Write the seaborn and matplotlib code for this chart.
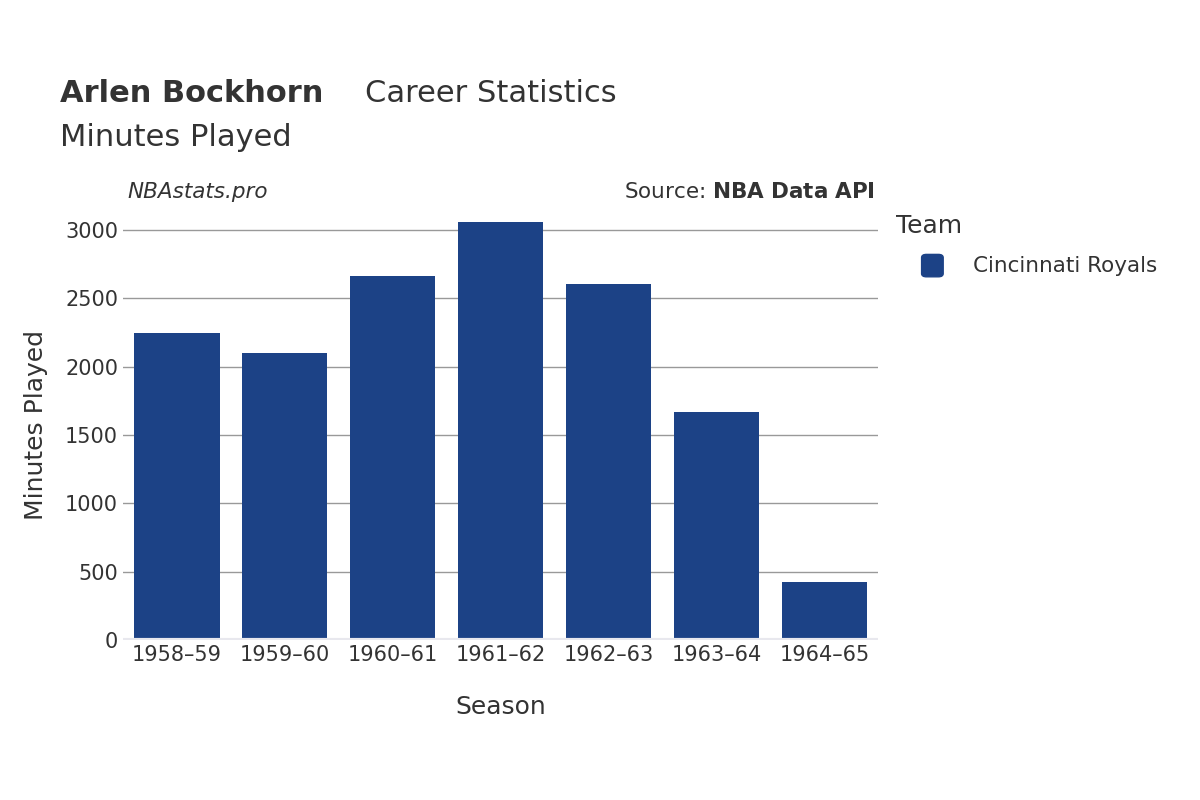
import seaborn as sns
import pandas as pd
import matplotlib.pyplot as plt
from matplotlib.patches import FancyBboxPatch

plt.rcParams['font.family'] = 'DejaVu Sans'

seasons = ['1958–59', '1959–60', '1960–61', '1961–62', '1962–63', '1963–64', '1964–65']
minutes = [2250, 2100, 2665, 3058, 2605, 1668, 424]
team = 'Cincinnati Royals'

data = pd.DataFrame({'Season': seasons, 'Minutes': minutes, 'Team': team})

fig = plt.figure(figsize=(12, 8), dpi=100)
ax = fig.add_axes([0.1025, 0.2, 0.6295, 0.538])
sns.barplot(data=data, x='Season', y='Minutes', hue='Team', palette=['#1c4286'],
            saturation=1, width=0.79, ax=ax, legend=False, zorder=3)

ax.set_ylim(0, 3150)
ax.set_xlim(-0.5, 6.5)
ax.set_yticks([0, 500, 1000, 1500, 2000, 2500, 3000])
ax.grid(axis='y', color='#999999', linewidth=1, zorder=0)
ax.axhline(0, color='#e8e8ee', linewidth=3, zorder=4)
for s in ax.spines.values():
    s.set_visible(False)
ax.tick_params(length=0, labelsize=15, colors='#333333')
ax.set_xlabel('Season', fontsize=18, color='#333333', labelpad=22)
ax.set_ylabel('Minutes Played', fontsize=18, color='#333333', labelpad=12)

fig.text(0.05, 0.872, 'Arlen Bockhorn', fontsize=22, weight='bold', color='#333333')
fig.text(0.304, 0.872, 'Career Statistics', fontsize=22, color='#333333')
fig.text(0.05, 0.817, 'Minutes Played', fontsize=22, color='#333333')
fig.text(0.106, 0.752, 'NBAstats.pro', fontsize=15.5, style='italic', color='#333333')
fig.text(0.729, 0.752, 'Source: $\\bf{NBA\\ Data\\ API}$', fontsize=15.5, color='#333333', ha='right')

fig.text(0.747, 0.709, 'Team', fontsize=18, color='#333333')
fig.patches.append(FancyBboxPatch(
    (0.768, 0.654), 0.018, 0.028, boxstyle='round,pad=0,rounding_size=0.004',
    transform=fig.transFigure, color='#1c4286', figure=fig))
fig.text(0.811, 0.667, team, fontsize=15.5, color='#333333', va='center')

fig.savefig('out.png')
